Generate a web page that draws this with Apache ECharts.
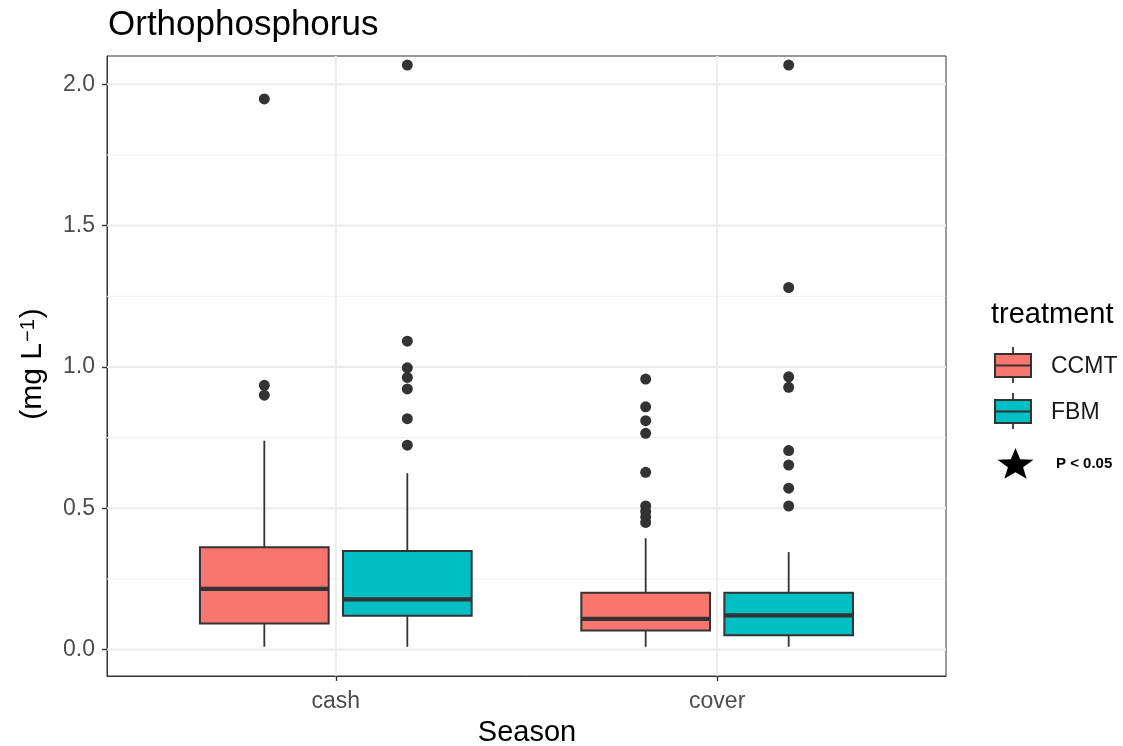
<!DOCTYPE html>
<html>
<head>
<meta charset="utf-8">
<script src="https://cdn.jsdelivr.net/npm/echarts@6/dist/echarts.min.js"></script>
<style>
  html, body { margin: 0; padding: 0; background: #ffffff; }
  #chart { width: 1123px; height: 746px; }
</style>
</head>
<body>
<div id="chart"></div>
<script>
// ---- data ----
const seasons = ['cash', 'cover'];
const treatments = ['CCMT', 'FBM'];
const treatmentColors = ['#F8766D', '#00BFC4'];
// per season: [lower whisker, Q1, median, Q3, upper whisker]
const ccmtStats = [
  [0.010, 0.092, 0.215, 0.362, 0.739],
  [0.010, 0.068, 0.109, 0.201, 0.394]
];
const fbmStats = [
  [0.010, 0.120, 0.178, 0.349, 0.624],
  [0.010, 0.051, 0.121, 0.201, 0.345]
];
// outlying observations per season
const ccmtOutliers = [
  [1.948, 0.935, 0.900],
  [0.957, 0.859, 0.810, 0.765, 0.627, 0.508, 0.489, 0.469, 0.450]
];
const fbmOutliers = [
  [2.068, 1.091, 0.997, 0.963, 0.922, 0.817, 0.723],
  [2.068, 1.281, 0.965, 0.928, 0.704, 0.653, 0.571, 0.508]
];
const yTicks = [0, 0.5, 1.0, 1.5, 2.0];
const yMinorTicks = [0.25, 0.75, 1.25, 1.75];

// ---- layout constants ----
const FONT = '"Liberation Sans", Arial, Helvetica, sans-serif';
const DODGE = 0.1875;      // half of the dodge width
const HALF_BOX = 0.16875;  // half of a single box width
const INK = '#333333';
const GRID_COLOR = '#ebebeb';

const statsByTreatment = [ccmtStats, fbmStats];
const outliersByTreatment = [ccmtOutliers, fbmOutliers];
const seasonPos = seasons.map((s, i) => i + 1);

function boxData(t) {
  return statsByTreatment[t].map((s, i) => [seasonPos[i], t].concat(s));
}
function outlierData(t) {
  const out = [];
  outliersByTreatment[t].forEach((vals, i) => {
    const x = seasonPos[i] + (t === 0 ? -DODGE : DODGE);
    vals.forEach(v => out.push([x, v]));
  });
  return out;
}

function renderBox(params, api) {
  const t = api.value(1);
  const xc = api.value(0) + (t === 0 ? -DODGE : DODGE);
  const left = api.coord([xc - HALF_BOX, 0])[0];
  const right = api.coord([xc + HALF_BOX, 0])[0];
  const cx = api.coord([xc, 0])[0];
  const yLo = api.coord([xc, api.value(2)])[1];
  const yQ1 = api.coord([xc, api.value(3)])[1];
  const yMed = api.coord([xc, api.value(4)])[1];
  const yQ3 = api.coord([xc, api.value(5)])[1];
  const yHi = api.coord([xc, api.value(6)])[1];
  const lineStyle = { stroke: INK, lineWidth: 1.8 };
  return {
    type: 'group',
    children: [
      { type: 'line', shape: { x1: cx, y1: yLo, x2: cx, y2: yQ1 }, style: lineStyle },
      { type: 'line', shape: { x1: cx, y1: yQ3, x2: cx, y2: yHi }, style: lineStyle },
      { type: 'rect', shape: { x: left, y: yQ3, width: right - left, height: yQ1 - yQ3 },
        style: { fill: treatmentColors[t], stroke: INK, lineWidth: 2 } },
      { type: 'line', shape: { x1: left, y1: yMed, x2: right, y2: yMed },
        style: { stroke: INK, lineWidth: 4.2 } }
    ]
  };
}

function hLine(width, color) {
  return function (params, api) {
    const cs = params.coordSys;
    const y = api.coord([1, api.value(0)])[1];
    return { type: 'line', shape: { x1: cs.x, y1: y, x2: cs.x + cs.width, y2: y },
      style: { stroke: color, lineWidth: width } };
  };
}
function vLine(width, color) {
  return function (params, api) {
    const cs = params.coordSys;
    const x = api.coord([api.value(0), 0])[0];
    return { type: 'line', shape: { x1: x, y1: cs.y, x2: x, y2: cs.y + cs.height },
      style: { stroke: color, lineWidth: width } };
  };
}

// legend key glyph: a small boxplot
function legendKey(t, top) {
  const x0 = 995, w = 36, h = 23, cx = x0 + w / 2;
  return [
    { type: 'line', shape: { x1: cx, y1: top - 7, x2: cx, y2: top + h + 6 }, style: { stroke: INK, lineWidth: 1.8 } },
    { type: 'rect', shape: { x: x0, y: top, width: w, height: h }, style: { fill: treatmentColors[t], stroke: INK, lineWidth: 2 } },
    { type: 'line', shape: { x1: x0, y1: top + h / 2, x2: x0 + w, y2: top + h / 2 }, style: { stroke: INK, lineWidth: 2 } },
    { type: 'text', x: 1051, y: top + h / 2 + 1, style: { text: treatments[t], font: '23px ' + FONT, fill: '#1a1a1a', verticalAlign: 'middle', align: 'left' } }
  ];
}

function starPoints(cx, cy, rx, ry) {
  const pts = [];
  for (let k = 0; k < 10; k++) {
    const a = -Math.PI / 2 + k * Math.PI / 5;
    const r = k % 2 === 0 ? 1 : 0.42;
    pts.push([cx + rx * r * Math.cos(a), cy + ry * r * Math.sin(a)]);
  }
  return pts;
}

const chart = echarts.init(document.getElementById('chart'), null, { renderer: 'canvas' });

chart.setOption({
  animation: false,
  textStyle: { fontFamily: FONT },
  grid: { left: 107, top: 56, width: 839, height: 620, show: true, borderColor: INK, borderWidth: 1, backgroundColor: '#ffffff', z: 0 },
  xAxis: {
    type: 'value', min: 0.4, max: 2.6,
    axisLine: { show: true, onZero: false, lineStyle: { color: INK, width: 1 } },
    axisTick: { show: true, customValues: seasonPos, length: 5, lineStyle: { color: INK, width: 1.4 } },
    axisLabel: { customValues: seasonPos, formatter: v => seasons[Math.round(v) - 1], color: '#4d4d4d', fontSize: 23, margin: 14, fontFamily: FONT },
    splitLine: { show: false }
  },
  yAxis: {
    type: 'value', min: -0.0934, max: 2.1,
    axisLine: { show: true, onZero: false, lineStyle: { color: INK, width: 1 } },
    axisTick: { show: true, customValues: yTicks, length: 5, lineStyle: { color: INK, width: 1.4 } },
    axisLabel: { customValues: yTicks, formatter: v => v.toFixed(1), color: '#4d4d4d', fontSize: 23, margin: 12, fontFamily: FONT },
    splitLine: { show: false }
  },
  series: [
    { type: 'custom', name: 'minor-grid', silent: true, z: 1, renderItem: hLine(1.1, '#f1f1f1'),
      data: yMinorTicks.map(v => [v]), encode: { y: 0 } },
    { type: 'custom', name: 'major-grid-y', silent: true, z: 1, renderItem: hLine(2, GRID_COLOR),
      data: yTicks.map(v => [v]), encode: { y: 0 } },
    { type: 'custom', name: 'major-grid-x', silent: true, z: 1, renderItem: vLine(2, GRID_COLOR),
      data: seasonPos.map(v => [v]), encode: { x: 0 } },
    { type: 'custom', name: treatments[0], z: 3, renderItem: renderBox, data: boxData(0), encode: { x: 0, y: [2, 6] } },
    { type: 'custom', name: treatments[1], z: 3, renderItem: renderBox, data: boxData(1), encode: { x: 0, y: [2, 6] } },
    { type: 'scatter', name: treatments[0] + ' outliers', z: 4, symbol: 'circle', symbolSize: 11,
      itemStyle: { color: INK, opacity: 1 }, data: outlierData(0) },
    { type: 'scatter', name: treatments[1] + ' outliers', z: 4, symbol: 'circle', symbolSize: 11,
      itemStyle: { color: INK, opacity: 1 }, data: outlierData(1) }
  ],
  graphic: [
    { type: 'text', x: 108, y: 25, style: { text: 'Orthophosphorus', font: '35px ' + FONT, fill: '#000', verticalAlign: 'middle', align: 'left' } },
    { type: 'text', x: 527, y: 733, style: { text: 'Season', font: '29px ' + FONT, fill: '#000', verticalAlign: 'middle', align: 'center' } },
    { type: 'text', x: 33, y: 364, rotation: Math.PI / 2,
      style: { text: '(mg L{sup|\u22121})', font: '30px ' + FONT, fill: '#000', verticalAlign: 'middle', align: 'center',
        rich: { sup: { fontSize: 20, fontFamily: FONT, fill: '#000', verticalAlign: 'top', lineHeight: 30, padding: [0, 1, 12, 1] } } } },
    { type: 'text', x: 991, y: 315, style: { text: 'treatment', font: '29px ' + FONT, fill: '#000', verticalAlign: 'middle', align: 'left' } }
  ].concat(legendKey(0, 354), legendKey(1, 400), [
    { type: 'polygon', shape: { points: starPoints(1015.5, 465, 19, 17) }, style: { fill: '#000' } },
    { type: 'text', x: 1056, y: 464, style: { text: 'P < 0.05', font: 'bold 15px ' + FONT, fill: '#000', verticalAlign: 'middle', align: 'left' } }
  ])
});
</script>
</body>
</html>
